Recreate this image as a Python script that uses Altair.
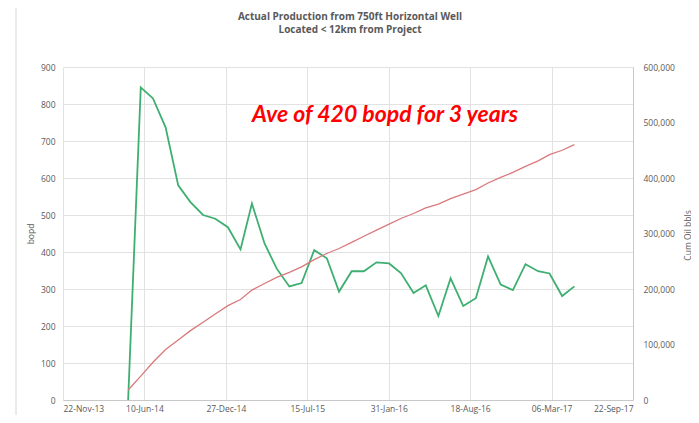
import altair as alt
import pandas as pd

# ---- data ----
months = [
    "2014-05-01", "2014-06-01", "2014-07-01", "2014-08-01", "2014-09-01", "2014-10-01",
    "2014-11-01", "2014-12-01", "2015-01-01", "2015-02-01", "2015-03-01", "2015-04-01",
    "2015-05-01", "2015-06-01", "2015-07-01", "2015-08-01", "2015-09-01", "2015-10-01",
    "2015-11-01", "2015-12-01", "2016-01-01", "2016-02-01", "2016-03-01", "2016-04-01",
    "2016-05-01", "2016-06-01", "2016-07-01", "2016-08-01", "2016-09-01", "2016-10-01",
    "2016-11-01", "2016-12-01", "2017-01-01", "2017-02-01", "2017-03-01", "2017-04-01",
    "2017-05-01",
]
bopd = [0, 845, 815, 737, 580, 535, 500, 490, 467, 407, 531, 423,
        355, 307, 316, 405, 383, 293, 348, 348, 372, 369, 343, 289,
        310, 227, 329, 254, 275, 388, 312, 297, 367, 348, 342, 281, 307]
cum_oil = [18000, 43000, 68000, 91000, 108000, 125000, 140000, 155000, 170000, 181000,
           198000, 210000, 221000, 230000, 240000, 253000, 264000, 273000, 284000, 295000,
           306000, 317000, 327000, 336000, 346000, 353000, 363000, 371000, 379000, 391000,
           401000, 410000, 421000, 431000, 442000, 450000, 460000]

x_ticks = [(2013, 11, 22), (2014, 6, 10), (2014, 12, 27), (2015, 7, 15),
           (2016, 1, 31), (2016, 8, 18), (2017, 3, 6), (2017, 9, 22)]
bopd_ticks = [0, 100, 200, 300, 400, 500, 600, 700, 800, 900]
cum_ticks = [0, 100000, 200000, 300000, 400000, 500000, 600000]

title_line1 = "Actual Production from 750ft Horizontal Well"
title_line2 = "Located < 12km from  Project"
annotation = "Ave of 420 bopd for 3 years"

df = pd.DataFrame({"date": months, "bopd": bopd, "cum": cum_oil})

GRAY = "#595959"
GRID = "#e2e2e2"
FONT = "Open Sans"

x_enc = alt.X(
    "date:T",
    scale=alt.Scale(type="utc",
                    domain=[alt.DateTime(year=2013, month=11, date=22, utc=True),
                            alt.DateTime(year=2017, month=9, date=22, utc=True)]),
    axis=alt.Axis(
        values=[alt.DateTime(year=y, month=m, date=d, utc=True) for (y, m, d) in x_ticks],
        labelExpr="utcFormat(datum.value, '%d-%b-%y')", title=None, ticks=False,
        domain=True, domainColor="#c8c8c8", grid=True, gridColor=GRID,
        labelPadding=4, labelFontSize=8.5,
    ),
)

green = alt.Chart(df).mark_line(color="#3daf70", strokeWidth=1.8).encode(
    x=x_enc,
    y=alt.Y("bopd:Q", scale=alt.Scale(domain=[0, 900], nice=False),
            axis=alt.Axis(values=bopd_ticks, title="bopd", grid=True, gridColor=GRID,
                          ticks=False, domain=False, labelPadding=8, titlePadding=5,
                          orient="left")),
)

red = alt.Chart(df).mark_line(color="#d9797b", strokeWidth=1.3).encode(
    x=x_enc,
    y=alt.Y("cum:Q", scale=alt.Scale(domain=[0, 600000], nice=False),
            axis=alt.Axis(values=cum_ticks, labelExpr="format(datum.value, ',')",
                          title="Cum Oil bbls", grid=False,
                          ticks=False, domain=True, domainColor="#c8c8c8",
                          labelPadding=10, orient="right",
                          titleAngle=270, titleBaseline="middle", titleAlign="center",
                          titleX=54, titleY=168)),
)

border = alt.Chart(pd.DataFrame({"a": [0]})).mark_rect(
    fill=None, stroke="#d6d6d6", strokeWidth=1
).encode(x=alt.value(-47), x2=alt.value(640), y=alt.value(-62), y2=alt.value(360))

title1 = alt.Chart(pd.DataFrame({"t": [title_line1]})).mark_text(
    font=FONT, fontSize=10, fontWeight="bold", color=GRAY, baseline="middle", align="center"
).encode(x=alt.value(287), y=alt.value(-50), text="t:N")

title2 = alt.Chart(pd.DataFrame({"t": [title_line2]})).mark_text(
    font=FONT, fontSize=10, fontWeight="bold", color=GRAY, baseline="middle", align="center"
).encode(x=alt.value(287), y=alt.value(-37), text="t:N")

note = alt.Chart(pd.DataFrame({"t": [annotation]})).mark_text(
    font="Lato", fontSize=23, fontWeight="bold", fontStyle="italic", color="#ff0000",
    baseline="middle", align="center"
).encode(x=alt.value(322), y=alt.value(48), text="t:N")

chart = alt.layer(border, green, red, title1, title2, note).resolve_scale(y="independent").properties(
    width=570, height=333,
    autosize=alt.AutoSizeParams(type="none"),
    padding={"left": 55, "top": 59, "right": 58, "bottom": 15},
).configure_view(stroke=None).configure_axis(
    labelFont=FONT, titleFont=FONT, labelColor=GRAY, titleColor=GRAY,
    labelFontSize=8.5, titleFontSize=8.5, titleFontWeight="normal",
)

chart.save("out.html", embed_options={"renderer": "svg", "actions": False})
